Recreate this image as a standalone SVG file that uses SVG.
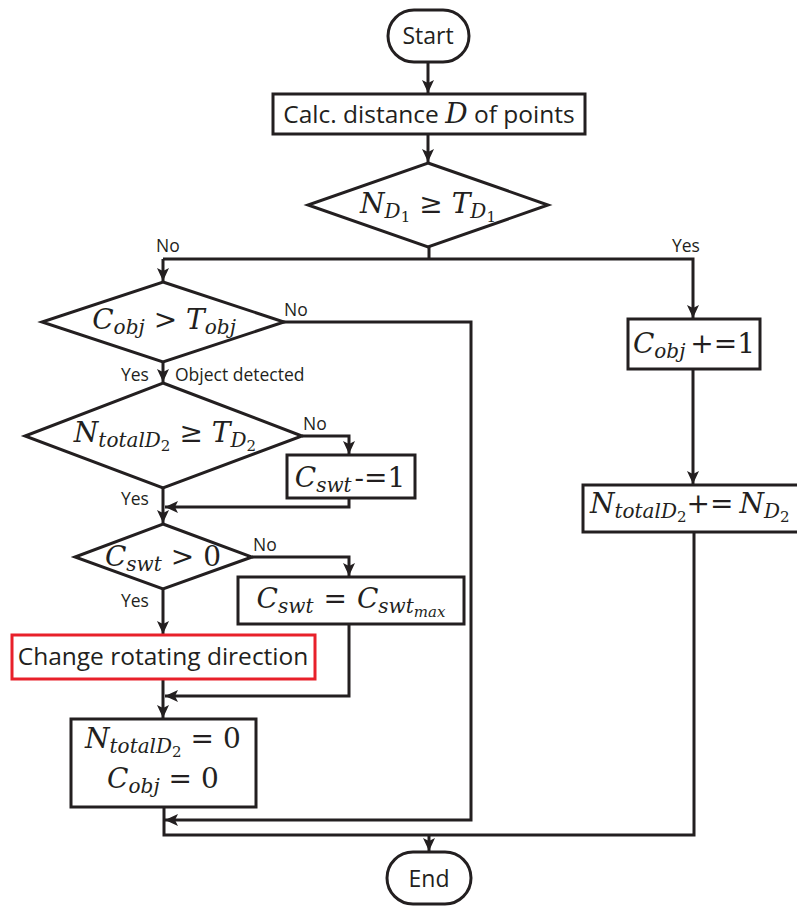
<svg xmlns="http://www.w3.org/2000/svg" width="797" height="907" viewBox="0 0 797 907">
<style>
.s{fill:none;stroke:#231f20;stroke-width:3;stroke-linejoin:miter}
.b{fill:#fff;stroke:#231f20;stroke-width:3}
.r{fill:#fff;stroke:#e8202a;stroke-width:3}
.t{font-family:"Open Sans","Noto Sans",sans-serif;fill:#231f20}
.lbl{font-family:"Open Sans","Noto Sans",sans-serif;font-size:17.5px;fill:#231f20}
.m{font-family:"DejaVu Serif","Liberation Serif",serif;font-size:28px;fill:#231f20}
.i{font-style:italic}
.sb{font-size:20px}
.ss{font-size:15px}
</style>
<defs>
<marker id="ah" markerUnits="userSpaceOnUse" markerWidth="14" markerHeight="12" refX="13" refY="6" orient="auto">
<path d="M0,0 L13,6 L0,12 L3,6 z" fill="#231f20"/>
</marker>
</defs>
<g id="connectors">
<path class="s" d="M428,62 V93" marker-end="url(#ah)"/>
<path class="s" d="M428,134 V162" marker-end="url(#ah)"/>
<path class="s" d="M429,247 V259"/>
<path class="s" d="M163,259 H693 V318" marker-end="url(#ah)"/>
<path class="s" d="M163,259 V281" marker-end="url(#ah)"/>
<path class="s" d="M283,322 H471 V820 H165" marker-end="url(#ah)"/>
<path class="s" d="M163,362 V382" marker-end="url(#ah)"/>
<path class="s" d="M302,436 H349 V454" marker-end="url(#ah)"/>
<path class="s" d="M163,488 V523" marker-end="url(#ah)"/>
<path class="s" d="M349,498 V507 H165" marker-end="url(#ah)"/>
<path class="s" d="M252,557 H349 V576" marker-end="url(#ah)"/>
<path class="s" d="M163,589 V634" marker-end="url(#ah)"/>
<path class="s" d="M349,624 V696 H165" marker-end="url(#ah)"/>
<path class="s" d="M163,679 V718" marker-end="url(#ah)"/>
<path class="s" d="M693,369 V484" marker-end="url(#ah)"/>
<path class="s" d="M164,807 V835 H694 V532"/>
<path class="s" d="M429,835 V851" marker-end="url(#ah)"/>
<text class="lbl" x="156" y="252">No</text>
<text class="lbl" x="672" y="252">Yes</text>
<text class="lbl" x="284" y="316">No</text>
<text class="lbl" x="121" y="381">Yes</text>
<text class="lbl" x="175" y="381">Object detected</text>
<text class="lbl" x="303" y="430">No</text>
<text class="lbl" x="121" y="505">Yes</text>
<text class="lbl" x="253" y="551">No</text>
<text class="lbl" x="121" y="607">Yes</text>
</g>
<g id="start">
<rect class="b" x="388" y="10" width="81" height="52" rx="26"/>
<text class="t" x="428" y="44" font-size="23" text-anchor="middle">Start</text>
</g>
<g id="calc">
<rect class="b" x="273" y="94" width="312" height="40"/>
<text class="t" x="429" y="123" font-size="24.5" text-anchor="middle">Calc. distance <tspan class="m i" font-size="27">D</tspan> of points</text>
</g>
<g id="dec1">
<polygon class="b" points="428,163 548,205 428,247 308,205"/>
<text class="m" x="428" y="213" text-anchor="middle"><tspan class="i">N</tspan><tspan class="i sb" dy="5">D</tspan><tspan class="ss" dy="4">1</tspan><tspan dx="9" dy="-9">≥</tspan><tspan class="i" dx="9">T</tspan><tspan class="i sb" dy="5">D</tspan><tspan class="ss" dy="4">1</tspan></text>
</g>
<g id="dec2">
<polygon class="b" points="163,282 284,322 163,362 42,322"/>
<text class="m" x="164" y="329" text-anchor="middle"><tspan class="i">C</tspan><tspan class="i sb" dy="5">obj</tspan><tspan dx="9" dy="-5">&gt;</tspan><tspan class="i" dx="9">T</tspan><tspan class="i sb" dy="5">obj</tspan></text>
</g>
<g id="dec3">
<polygon class="b" points="163,383 302,436 163,488 25,436"/>
<text class="m" x="165" y="442" text-anchor="middle"><tspan class="i">N</tspan><tspan class="i sb" dy="5">totalD</tspan><tspan class="ss" dy="4">2</tspan><tspan dx="9" dy="-9">≥</tspan><tspan class="i" dx="9">T</tspan><tspan class="i sb" dy="5">D</tspan><tspan class="ss" dy="4">2</tspan></text>
</g>
<g id="cswt-dec">
<rect class="b" x="287" y="455" width="128" height="43"/>
<text class="m" x="350" y="487" text-anchor="middle"><tspan class="i">C</tspan><tspan class="i sb" dy="5">swt</tspan><tspan dx="3" dy="-5">-=1</tspan></text>
</g>
<g id="dec4">
<polygon class="b" points="163,524 252,557 163,589 75,557"/>
<text class="m" x="163" y="566" text-anchor="middle"><tspan class="i">C</tspan><tspan class="i sb" dy="5">swt</tspan><tspan dx="9" dy="-5">&gt;</tspan><tspan dx="9">0</tspan></text>
</g>
<g id="cswt-reset">
<rect class="b" x="238" y="577" width="226" height="47"/>
<text class="m" x="351" y="608" text-anchor="middle"><tspan class="i">C</tspan><tspan class="i sb" dy="5">swt</tspan><tspan dx="10" dy="-5">=</tspan><tspan class="i" dx="10">C</tspan><tspan class="i sb" dy="5">swt</tspan><tspan class="i ss" dy="4">max</tspan></text>
</g>
<g id="change">
<rect class="r" x="12" y="635" width="303" height="44"/>
<text class="t" x="163" y="665" font-size="24.5" text-anchor="middle">Change rotating direction</text>
</g>
<g id="reset">
<rect class="b" x="71" y="719" width="185" height="88"/>
<text class="m" x="163" y="748" text-anchor="middle"><tspan class="i">N</tspan><tspan class="i sb" dy="5">totalD</tspan><tspan class="ss" dy="4">2</tspan><tspan dx="9" dy="-9">=</tspan><tspan dx="9">0</tspan></text>
<text class="m" x="163" y="788" text-anchor="middle"><tspan class="i">C</tspan><tspan class="i sb" dy="5">obj</tspan><tspan dx="9" dy="-5">=</tspan><tspan dx="9">0</tspan></text>
</g>
<g id="cobj-inc">
<rect class="b" x="628" y="319" width="132" height="50"/>
<text class="m" x="694" y="353" text-anchor="middle"><tspan class="i">C</tspan><tspan class="i sb" dy="5">obj</tspan><tspan dx="5" dy="-5">+=1</tspan></text>
</g>
<g id="ntotal-inc">
<rect class="b" x="583" y="485" width="225" height="47"/>
<text class="m" x="590" y="513"><tspan class="i">N</tspan><tspan class="i sb" dy="5">totalD</tspan><tspan class="ss" dy="4">2</tspan><tspan dy="-9">+=</tspan><tspan class="i" dx="6">N</tspan><tspan class="i sb" dy="5">D</tspan><tspan class="ss" dy="4">2</tspan></text>
</g>
<g id="end">
<rect class="b" x="387" y="852" width="84" height="52" rx="26"/>
<text class="t" x="429" y="887" font-size="23" text-anchor="middle">End</text>
</g>
</svg>
